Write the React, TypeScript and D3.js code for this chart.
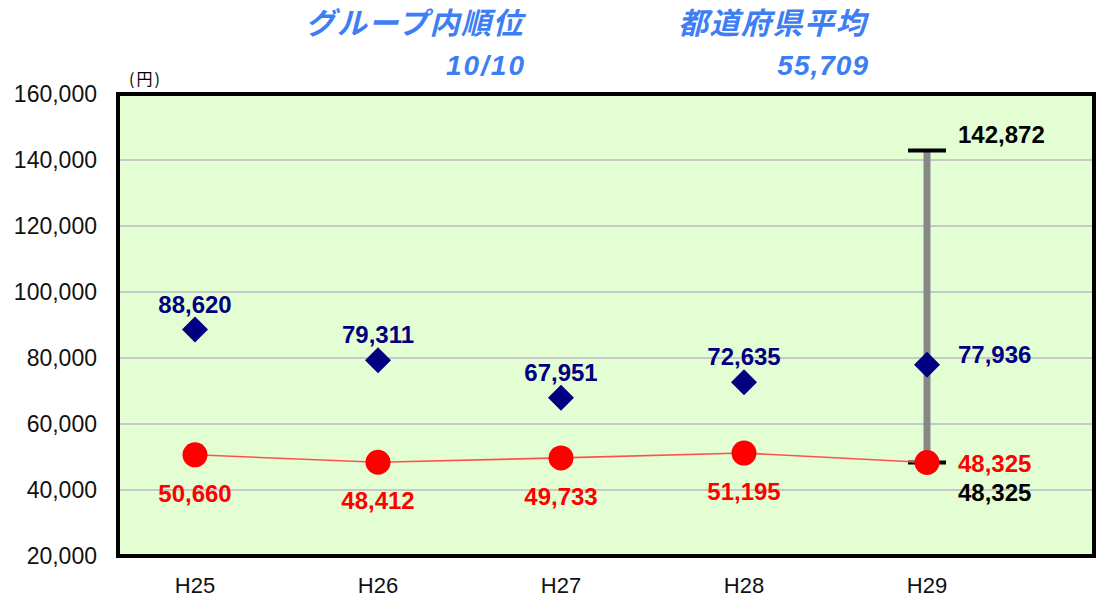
import * as d3 from 'd3'

const categories = ['H25', 'H26', 'H27', 'H28', 'H29']
const groupValues = [88620, 79311, 67951, 72635, 77936]
const prefValues = [50660, 48412, 49733, 51195, 48325]
const rangeMax = 142872
const rangeMin = 48325
const yTicks = [20000, 40000, 60000, 80000, 100000, 120000, 140000, 160000]

const W = 1099
const H = 602
const plot = { left: 118, right: 1094, top: 94, bottom: 556 }

const fmt = d3.format(',')

export default function App() {
  const x = d3.scalePoint<string>().domain(categories).range([195, 927])
  const y = d3.scaleLinear().domain([20000, 160000]).range([plot.bottom, plot.top])

  const line = d3.line<number>()
    .x((_, i) => x(categories[i])!)
    .y(d => y(d))

  const font = '"Liberation Sans", Arial, sans-serif'
  const jp = '"Noto Sans CJK JP", sans-serif'
  const last = categories[categories.length - 1]
  const lx = x(last)!

  return (
    <svg width={W} height={H} style={{ position: 'absolute', left: 0, top: 0 }}>
      {/* header */}
      <g fill="#3D7EF5" fontStyle="italic" textAnchor="end">
        <text x={524} y={34} fontFamily={jp} fontSize={30} fontWeight="bold" letterSpacing={1.5}>グループ内順位</text>
        <text x={526} y={75} fontFamily={font} fontSize={28} fontWeight="bold" letterSpacing={2}>10/10</text>
        <text x={867} y={34} fontFamily={jp} fontSize={30} fontWeight="bold" letterSpacing={1.5}>都道府県平均</text>
        <text x={869} y={75} fontFamily={font} fontSize={28} fontWeight="bold" letterSpacing={1}>55,709</text>
      </g>

      <text x={129} y={85} fontFamily={jp} fontSize={16} fill="#000" letterSpacing={2}>(円)</text>

      {/* plot area */}
      <rect x={plot.left} y={plot.top} width={plot.right - plot.left} height={plot.bottom - plot.top}
        fill="#E4FED3" />
      {yTicks.slice(1, -1).map(t => (
        <line key={t} x1={plot.left} x2={plot.right} y1={y(t)} y2={y(t)} stroke="#C8C8C8" strokeWidth={2} />
      ))}
      <rect x={plot.left} y={plot.top} width={plot.right - plot.left} height={plot.bottom - plot.top}
        fill="none" stroke="#000" strokeWidth={4} />

      {/* y axis labels */}
      {yTicks.map(t => (
        <text key={t} x={97} y={y(t)} dy="0.35em" textAnchor="end" fontFamily={font} fontSize={23} fill="#111">
          {fmt(t)}
        </text>
      ))}

      {/* x axis labels */}
      {categories.map(c => (
        <text key={c} x={x(c)} y={593} textAnchor="middle" fontFamily={font} fontSize={22} fill="#111">{c}</text>
      ))}

      {/* range bar */}
      <line x1={lx} x2={lx} y1={y(rangeMax)} y2={y(rangeMin)} stroke="#878787" strokeWidth={7} />
      <line x1={lx - 19} x2={lx + 19} y1={y(rangeMax)} y2={y(rangeMax)} stroke="#000" strokeWidth={4} />
      <line x1={lx - 19} x2={lx + 19} y1={y(rangeMin)} y2={y(rangeMin)} stroke="#000" strokeWidth={4} />

      {/* prefecture line */}
      <path d={line(prefValues) ?? ''} fill="none" stroke="#FF5050" strokeWidth={1.6} />
      {prefValues.map((v, i) => (
        <circle key={i} cx={x(categories[i])} cy={y(v)} r={12.5} fill="#FF0000" />
      ))}

      {/* group diamonds */}
      {groupValues.map((v, i) => {
        const cx = x(categories[i])!
        const cy = y(v)
        return <path key={i} d={`M${cx},${cy - 13}L${cx + 13},${cy}L${cx},${cy + 13}L${cx - 13},${cy}Z`} fill="#000080" />
      })}

      {/* data labels */}
      <g fontFamily={font} fontSize={24} fontWeight="bold">
        {groupValues.slice(0, -1).map((v, i) => (
          <text key={i} x={x(categories[i])} y={y(v) - 17} textAnchor="middle" fill="#000080">{fmt(v)}</text>
        ))}
        {prefValues.slice(0, -1).map((v, i) => (
          <text key={i} x={x(categories[i])} y={y(v) + 47} textAnchor="middle" fill="#FF0000">{fmt(v)}</text>
        ))}
        <text x={lx + 31} y={y(groupValues[4]) - 2} fill="#000080">{fmt(groupValues[4])}</text>
        <text x={lx + 31} y={y(prefValues[4]) + 9} fill="#FF0000">{fmt(prefValues[4])}</text>
        <text x={lx + 31} y={y(rangeMin) + 38} fill="#000">{fmt(rangeMin)}</text>
        <text x={lx + 31} y={y(rangeMax) - 8} fill="#000">{fmt(rangeMax)}</text>
      </g>
    </svg>
  )
}
